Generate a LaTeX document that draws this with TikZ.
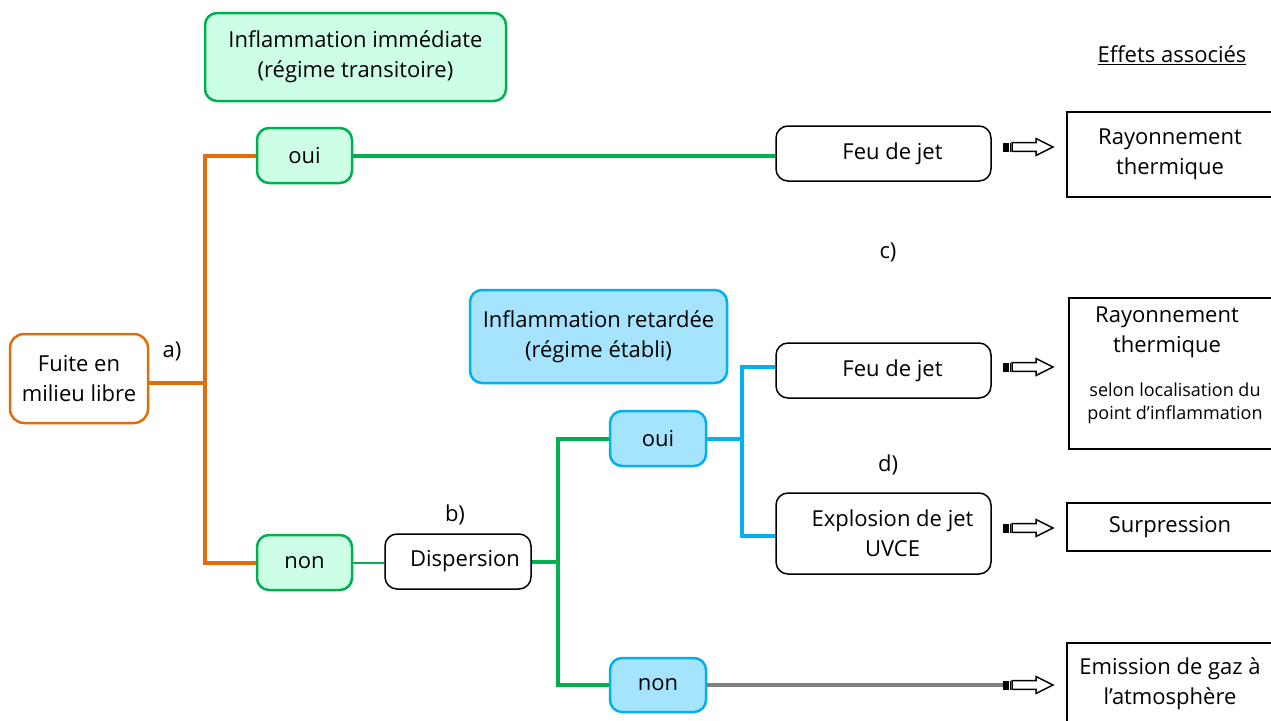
\documentclass[tikz,border=0pt]{standalone}
\usepackage{fontspec}
\setmainfont{Open Sans}
\definecolor{orng}{HTML}{E36C0A}
\definecolor{grn}{HTML}{00B050}
\definecolor{lgrn}{HTML}{CCFFE6}
\definecolor{blu}{HTML}{00B0F0}
\definecolor{lblu}{HTML}{A6E4FD}
\definecolor{gry}{HTML}{808080}
\tikzset{
  base/.style={inner sep=0pt, align=center, font=\fontsize{22}{30}\selectfont},
  greenbox/.style={base, rounded corners=12pt, draw=grn, line width=2.5pt, fill=lgrn},
  bluebox/.style={base, rounded corners=12pt, draw=blu, line width=2.5pt, fill=lblu},
  orangebox/.style={base, rounded corners=14pt, draw=orng, line width=2.5pt, fill=white},
  blackbox/.style={base, rounded corners=12pt, draw=black, line width=1.5pt, fill=white},
  effbox/.style={base, draw=black, line width=1.5pt, fill=white},
  lbl/.style={base},
  arrbody/.style={draw=black, line width=1.5pt, fill=white, line join=miter},
  orline/.style={draw=orng, line width=4pt},
  grline/.style={draw=grn, line width=4pt},
  grthin/.style={draw=grn, line width=2pt},
  blline/.style={draw=blu, line width=4pt},
  gyline/.style={draw=gry, line width=4pt},
}
\begin{document}
\begin{tikzpicture}[x=1pt,y=-1pt]
\useasboundingbox (0,0) rectangle (1271,720);
% nodes
\node[greenbox, minimum width=301pt, minimum height=88pt] (infl1) at (355.5,57) {Inflammation immédiate\\(régime transitoire)};
\node[greenbox, minimum width=95pt, minimum height=55pt] (oui1) at (304.5,155.5) {oui};
\node[orangebox, minimum width=138pt, minimum height=89pt] (fuite) at (79,378.5) {Fuite en\\milieu libre};
\node[lbl] (la) at (172,351) {a)};
\node[greenbox, minimum width=95pt, minimum height=55pt] (non1) at (304.5,562.5) {non};
\node[blackbox, minimum width=215pt, minimum height=55pt] (feu1) at (883.5,153.5) {\hspace*{18pt}Feu de jet};
\node[effbox, minimum width=206pt, minimum height=85pt] (ray1) at (1170,154.5) {Rayonnement\\thermique};
\node[lbl] (eff) at (1172,55) {\underline{Effets associés}};
\node[lbl] (lc) at (888,252) {c)};
\node[bluebox, minimum width=257pt, minimum height=93pt] (infl2) at (598.5,336.5) {Inflammation retardée\\(régime établi)};
\node[blackbox, minimum width=215pt, minimum height=55pt] (feu2) at (883.5,370.5) {\hspace*{18pt}Feu de jet};
\node[effbox, minimum width=206pt, minimum height=151pt] (ray2) at (1172,373.5) {};
\node[base, anchor=north] (ray2t) at (1167,307) {Rayonnement\\thermique};
\node[base, anchor=north, font=\fontsize{18}{23}\selectfont] (ray2s) at (1175,383) {selon localisation du\\point d’inflammation};
\node[bluebox, minimum width=96pt, minimum height=55pt] (oui2) at (658,438.5) {oui};
\node[lbl] (ld) at (888,465) {d)};
\node[blackbox, minimum width=215pt, minimum height=81pt] (expl) at (883.5,533.5) {\hspace*{18pt}Explosion de jet\\\hspace*{18pt}UVCE};
\node[effbox, minimum width=206pt, minimum height=48pt] (surp) at (1170,527) {Surpression};
\node[lbl] (lb) at (455,515) {b)};
\node[blackbox, minimum width=146pt, minimum height=55pt] (disp) at (458,561.5) {\hspace*{14pt}Dispersion};
\node[bluebox, minimum width=96pt, minimum height=54pt] (non2) at (658,685) {non};
\node[effbox, minimum width=206pt, minimum height=82pt] (emis) at (1170,684) {Emission de gaz à\\l’atmosphère};
% block arrows
\foreach \n/\y in {arr1/147, arr2/367, arr3/528, arr4/685}{
  \coordinate (\n) at (1003,\y);
  \fill (\n) ++(0,-4.5) rectangle ++(6,9);
  \draw[line width=1pt] (\n) ++(7.5,-4.5) -- ++(0,9);
  \draw[arrbody] (\n) ++(9,-4.3) -- ++(24,0) -- ++(0,-4.2) -- ++(17,8.5) -- ++(-17,8.5) -- ++(0,-4.2) -- ++(-24,0) -- cycle;
}
% junctions
\coordinate (ja) at (205,383);
\coordinate (jb) at (558,562);
\coordinate (jc) at (742,438.5);
% connectors
\draw[orline] (fuite.east |- ja) -- (ja);
\draw[orline] (oui1.west) -| (ja) |- (non1.west);
\draw[grline] (oui1.east) -- (oui1.east -| feu1.west);
\draw[grthin] (non1.east) -- (non1.east -| disp.west);
\draw[grline] (disp.east |- jb) -- (jb);
\draw[grline] (oui2.west) -| (jb) |- (non2.west);
\draw[blline] (oui2.east) -- (jc);
\draw[blline] (feu2.west |- 0,367) -| (jc) |- (expl.west |- 0,536);
\draw[gyline] (non2.east) -- (arr4);
\end{tikzpicture}
\end{document}
